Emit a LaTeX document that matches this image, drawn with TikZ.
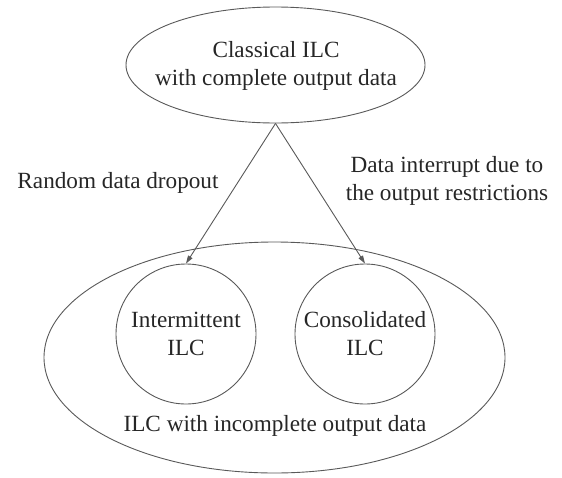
\documentclass[tikz,border=0pt]{standalone}
\usepackage{fontspec}
\setmainfont{Liberation Serif}
\usetikzlibrary{shapes.geometric, arrows.meta}

\tikzset{
  outline/.style={draw=black!65, line width=0.9pt},
  txt/.style={font=\fontsize{23.2}{28}\selectfont, align=center, inner sep=0pt, text=black!85},
  link/.style={draw=black!65, line width=0.9pt, -{Triangle[length=8pt, width=5pt]}}
}

\begin{document}
\begin{tikzpicture}[x=1pt, y=-1pt]
    \useasboundingbox (0,0) rectangle (562,477);
    % top: classical ILC
    \node[outline, ellipse, minimum width=299pt, minimum height=116pt, inner sep=0pt] (classic) at (275.5,65) {};
    \node[txt] (classictxt) at (276,65.6) {Classical ILC\\with complete output data};
    % bottom: incomplete data
    \node[outline, ellipse, minimum width=461pt, minimum height=231pt, inner sep=0pt] (incomplete) at (274.5,357.5) {};
    \node[txt] (incompletetxt) at (275,425.6) {ILC with incomplete output data};
    \node[outline, circle, minimum size=140pt, txt] (inter) at (186,334) {Intermittent\\ILC};
    \node[outline, circle, minimum size=140pt, txt] (consol) at (365,334) {Consolidated\\ILC};
    % the two causes
    \path[link] (classic.south) -- (inter.north);
    \path[link] (classic.south) -- (consol.north);
    \node[txt] (dropout) at (118,182.7) {Random data dropout};
    \node[txt] (interrupt) at (447,180.7) {Data interrupt due to\\the output restrictions};
\end{tikzpicture}
\end{document}
